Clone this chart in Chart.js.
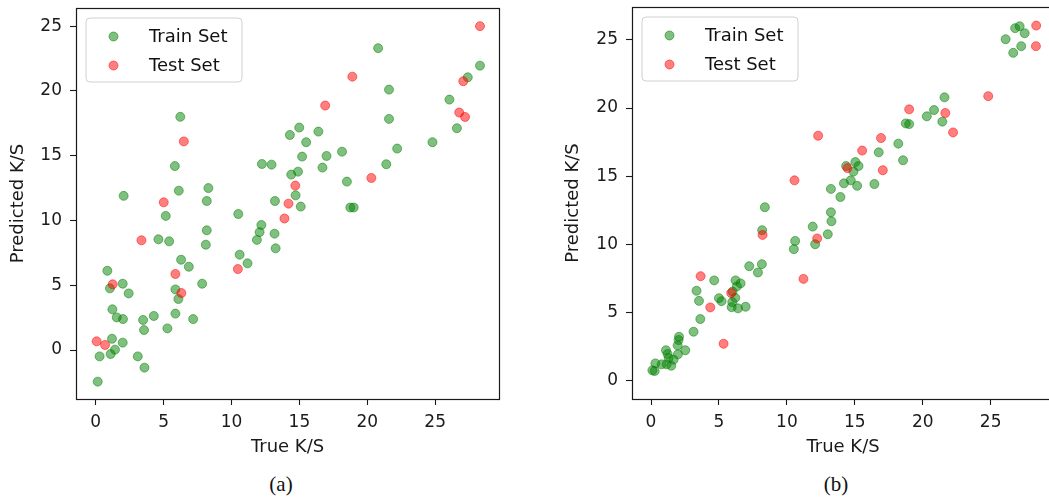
<!DOCTYPE html>
<html>
<head>
<meta charset="utf-8">
<script src="https://cdn.jsdelivr.net/npm/chart.js@4.4.1/dist/chart.umd.min.js"></script>
<style>
  html, body { margin: 0; padding: 0; background: #fff; }
  body { width: 1049px; height: 498px; position: relative; overflow: hidden; }
  .panel { position: absolute; top: 0; height: 465px; }
  .cap { position: absolute; top: 472px; width: 60px; text-align: center;
         font-family: "Liberation Serif", serif; font-size: 21px; color: #111; }
</style>
</head>
<body>
<div class="panel" style="left:0;width:525px"><canvas id="chartA"></canvas></div>
<div class="panel" style="left:555px;width:520px"><canvas id="chartB"></canvas></div>
<div class="cap" style="left:251px">(a)</div>
<div class="cap" style="left:806px">(b)</div>
<script>
// ---- data ----
const seriesNames = ["Train Set", "Test Set"];
const tickValues = [0, 5, 10, 15, 20, 25];

// panel (a)
const trainTrueA = [6.23, 5.83, 6.12, 8.3, 2.06, 8.18, 5.16, 10.5, 8.18, 8.11, 4.62, 5.41, 10.6, 11.18, 12.2, 12.07, 11.87,
  6.29, 6.86, 5.87, 6.09, 7.84, 0.86, 1.05, 1.99, 2.43, 1.23, 1.55, 2.01, 3.49, 4.28, 3.56, 5.28, 5.87, 7.18, 1.2, 1.99,
  1.42, 1.1, 0.29, 3.1, 3.59, 0.15, 13.2, 15.1, 18.75, 19.0, 13.17, 13.25, 20.8, 28.3, 27.4, 21.6, 26.05, 21.6, 26.6,
  14.99, 14.3, 16.4, 15.5, 24.8, 22.2, 18.14, 15.2, 17.0, 12.24, 12.95, 21.4, 16.7, 14.9, 14.4, 18.5, 14.72];
const trainPredA = [18.0, 14.2, 12.3, 12.5, 11.9, 11.5, 10.35, 10.5, 9.24, 8.13, 8.55, 8.39, 7.36, 6.69, 9.65, 9.1, 8.5,
  6.97, 6.43, 4.68, 3.94, 5.12, 6.12, 4.76, 5.12, 4.37, 3.14, 2.52, 2.39, 2.32, 2.63, 1.54, 1.67, 2.81, 2.39, 0.87, 0.57,
  0.03, -0.31, -0.49, -0.49, -1.36, -2.44, 11.5, 11.07, 11.0, 11.0, 8.98, 7.85, 23.3, 21.95, 21.05, 20.1, 19.33, 17.84, 17.12,
  17.17, 16.6, 16.86, 16.04, 16.04, 15.55, 15.31, 14.93, 14.98, 14.36, 14.31, 14.34, 14.08, 13.77, 13.54, 13.0, 11.94];
const testTrueA = [6.49, 5.01, 3.37, 10.47, 5.87, 6.31, 1.25, 0.07, 0.69, 14.2, 13.9, 28.3, 27.07, 18.9, 16.9, 26.77, 27.2, 20.3, 14.7];
const testPredA = [16.1, 11.4, 8.47, 6.25, 5.87, 4.4, 5.07, 0.67, 0.39, 11.3, 10.15, 25.0, 20.75, 21.1, 18.87, 18.33, 17.99, 13.28, 12.69];

// panel (b)
const trainTrueB = [8.38, 26.8, 27.13, 27.5, 26.1, 27.25, 26.66, 21.6, 20.83, 20.3, 21.44, 18.75, 19.0, 18.2, 16.76, 18.55,
  15.04, 15.27, 14.36, 14.9, 14.7, 14.2, 15.17, 16.44, 13.24, 13.94, 13.24, 13.28, 11.9, 12.08, 13.01, 10.61, 10.51, 8.18,
  7.23, 8.16, 7.87, 4.65, 6.22, 6.59, 6.32, 3.35, 6.0, 5.0, 5.19, 6.2, 3.53, 5.98, 5.93, 6.4, 6.96, 3.63, 3.13, 2.06, 2.03,
  1.96, 2.52, 1.1, 1.22, 1.98, 1.3, 1.66, 0.78, 1.15, 1.49, 0.32, 0.1, 0.27];
const trainPredB = [12.73, 25.85, 25.99, 25.48, 25.04, 24.53, 24.04, 20.78, 19.85, 19.39, 19.0, 18.87, 18.82, 17.39, 16.75, 16.17,
  16.04, 15.75, 15.75, 15.34, 14.7, 14.48, 14.3, 14.43, 14.07, 13.48, 12.36, 11.7, 11.31, 10.02, 10.75, 10.26, 9.66, 11.05,
  8.41, 8.56, 7.95, 7.37, 7.37, 7.15, 6.93, 6.61, 6.55, 6.07, 5.85, 6.09, 5.87, 5.78, 5.41, 5.32, 5.44, 4.54, 3.61, 3.24, 3.0,
  2.61, 2.25, 2.25, 1.98, 1.95, 1.68, 1.56, 1.22, 1.22, 1.12, 1.29, 0.78, 0.73];
const testTrueB = [28.35, 28.33, 24.82, 19.0, 21.66, 22.23, 12.3, 16.93, 15.54, 17.06, 14.46, 10.56, 12.23, 11.22, 8.21, 3.65, 5.9, 4.36, 5.34];
const testPredB = [26.04, 24.53, 20.87, 19.9, 19.63, 18.21, 17.97, 17.8, 16.88, 15.44, 15.6, 14.7, 10.44, 7.48, 10.7, 7.68, 6.44, 5.39, 2.73];

const GREEN = "rgba(0,128,0,0.5)";
const RED = "rgba(255,0,0,0.5)";
const FONT = "'DejaVu Sans', sans-serif";

function toPoints(xs, ys) {
  return xs.map((x, i) => ({ x: x, y: ys[i] }));
}

// frame around the plot area plus a matplotlib-like legend box
const framePlugin = {
  id: "frame",
  afterDatasetsDraw(chart) {
    const { ctx, chartArea: a } = chart;
    ctx.save();
    ctx.strokeStyle = "#1a1a1a";
    ctx.lineWidth = 1.2;
    ctx.strokeRect(Math.round(a.left) + 0.5, Math.round(a.top) + 0.5,
      Math.round(a.right - a.left), Math.round(a.bottom - a.top));

    // legend
    const bx = a.left + 10, by = a.top + 10, bw = 156, bh = 64, r = 4;
    ctx.beginPath();
    ctx.moveTo(bx + r, by);
    ctx.arcTo(bx + bw, by, bx + bw, by + bh, r);
    ctx.arcTo(bx + bw, by + bh, bx, by + bh, r);
    ctx.arcTo(bx, by + bh, bx, by, r);
    ctx.arcTo(bx, by, bx + bw, by, r);
    ctx.closePath();
    ctx.fillStyle = "rgba(255,255,255,0.8)";
    ctx.fill();
    ctx.strokeStyle = "#d0d0d0";
    ctx.lineWidth = 1;
    ctx.stroke();

    chart.data.datasets.slice().sort((p, q) => q.order - p.order).forEach((ds, i) => {
      const cy = a.top + 28.5 + i * 29;
      ctx.beginPath();
      ctx.arc(a.left + 37.5, cy, 4.5, 0, Math.PI * 2);
      ctx.fillStyle = ds.backgroundColor;
      ctx.fill();
      ctx.strokeStyle = ds.borderColor;
      ctx.lineWidth = 1;
      ctx.stroke();
      ctx.fillStyle = "#111";
      ctx.font = "18px " + FONT;
      ctx.textBaseline = "middle";
      ctx.textAlign = "left";
      ctx.fillText(ds.label, a.left + 73, cy + 1);
    });
    ctx.restore();
  }
};

function makeScale(min, max, title, isX, axisSize) {
  return {
    type: "linear",
    position: isX ? "bottom" : "left",
    min: min,
    max: max,
    afterBuildTicks(scale) {
      scale.ticks = tickValues.map(v => ({ value: v }));
    },
    afterFit(scale) {
      if (isX) scale.height = axisSize; else scale.width = axisSize;
      // no extra room for end labels, the plot box is set by layout padding
      scale.paddingTop = 0;
      scale.paddingBottom = 0;
      scale.paddingLeft = 0;
      scale.paddingRight = 0;
    },
    grid: {
      display: true,
      drawOnChartArea: false,
      drawTicks: true,
      tickLength: 6,
      tickWidth: 1.1,
      tickColor: "#1a1a1a"
    },
    border: { display: false },
    ticks: {
      color: "#1a1a1a",
      padding: isX ? 7 : 8,
      font: { family: FONT, size: 17 },
      maxRotation: 0
    },
    title: {
      display: true,
      text: title,
      color: "#1a1a1a",
      font: { family: FONT, size: 18 },
      padding: isX ? { top: 0, bottom: 7 } : { top: 8, bottom: 0 }
    }
  };
}

function buildPanel(id, trX, trY, teX, teY, xr, yr, yAxisWidth, pad) {
  new Chart(document.getElementById(id), {
    type: "scatter",
    data: {
      datasets: [
        {
          label: seriesNames[0],
          data: toPoints(trX, trY),
          backgroundColor: GREEN,
          borderColor: GREEN,
          borderWidth: 1,
          pointRadius: 4.5,
          order: 1
        },
        {
          label: seriesNames[1],
          data: toPoints(teX, teY),
          backgroundColor: RED,
          borderColor: RED,
          borderWidth: 1,
          pointRadius: 4.5,
          order: 0
        }
      ]
    },
    options: {
      responsive: true,
      maintainAspectRatio: false,
      animation: false,
      events: [],
      layout: { padding: pad },
      plugins: {
        legend: { display: false },
        tooltip: { enabled: false }
      },
      scales: {
        x: makeScale(xr[0], xr[1], "True K/S", true, 66),
        y: makeScale(yr[0], yr[1], "Predicted K/S", false, yAxisWidth)
      }
    },
    plugins: [framePlugin]
  });
}

buildPanel("chartA", trainTrueA, trainPredA, testTrueA, testPredA,
  [-1.45, 29.7], [-3.78, 26.4], 76, { top: 8, right: 26, left: 0, bottom: 0 });
buildPanel("chartB", trainTrueB, trainPredB, testTrueB, testPredB,
  [-1.4, 29.66], [-1.32, 27.4], 77, { top: 7, right: 21, left: 0, bottom: 0 });
</script>
</body>
</html>
